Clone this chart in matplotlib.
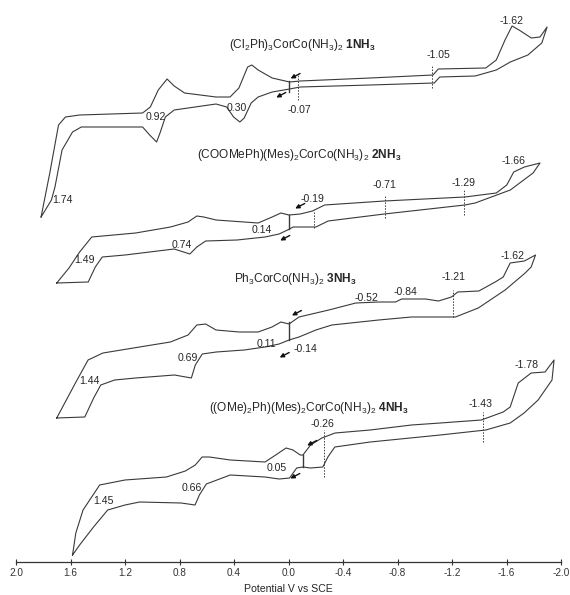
import matplotlib
matplotlib.use("Agg")
import matplotlib.pyplot as plt

plt.rcParams['font.family'] = ['Liberation Sans', 'DejaVu Sans']
plt.rcParams['mathtext.fontset'] = 'custom'
plt.rcParams['mathtext.rm'] = 'Liberation Sans'
plt.rcParams['mathtext.it'] = 'Liberation Sans:italic'
plt.rcParams['mathtext.bf'] = 'Liberation Sans:bold'
plt.rcParams['axes.unicode_minus'] = False

# Cyclic voltammograms, potential in V vs SCE, current in arbitrary (stacked) units.
# Each loop: upper branch left->right, then lower branch right->left.
E1 = [1.816, 1.752, 1.688, 1.637, 1.533, 1.071, 1.014, 0.956, 0.891, 0.839, 0.763, 0.532, 0.429,
      0.364, 0.300, 0.269, 0.223, 0.120, -0.008, -0.086, -0.600, -1.060, -1.100, -1.448, -1.525,
      -1.589, -1.641, -1.692, -1.782, -1.846, -1.898,
      -1.859, -1.757, -1.628, -1.525, -1.370, -1.110, -1.070, -0.600, -0.086, -0.008, 0.120, 0.223,
      0.274, 0.325, 0.357, 0.403, 0.454, 0.532, 0.839, 0.904, 0.943, 0.968, 1.019, 1.071, 1.521,
      1.585, 1.662, 1.714, 1.740]
I1 = [345, 389, 437, 445, 447, 449, 455, 472, 483, 476, 469, 465, 465,
      474, 495, 497, 492, 484, 480, 481, 484, 487, 493, 494, 502,
      522, 536, 532, 524, 525, 535,
      519, 507, 500, 492, 486, 485, 479, 477, 475, 473, 470, 465,
      459, 444, 440, 445, 455, 458, 452, 445, 429, 420, 427, 435, 435,
      430, 412, 375, 362]

E2 = [1.701, 1.611, 1.533, 1.444, 1.122, 0.866, 0.737, 0.673, 0.622, 0.532, 0.223, 0.120, 0.056,
      -0.003, -0.086, -0.176, -0.265, -0.703, -1.294, -1.525, -1.602, -1.653, -1.731, -1.846,
      -1.795, -1.628, -1.370, -1.294, -0.703, -0.291, -0.201, -0.034, -0.008, 0.069, 0.172, 0.377,
      0.608, 0.673, 0.724, 0.839, 1.200, 1.367, 1.418, 1.470]
I2 = [279, 294, 310, 325, 329, 335, 340, 346, 345, 342, 339, 345, 349,
      347, 348, 351, 357, 361, 365, 369, 377, 390, 395, 399,
      389, 372, 359, 357, 348, 341, 335, 335, 333, 328, 325, 322,
      321, 315, 308, 313, 307, 305, 295, 280]

E3 = [1.701, 1.611, 1.560, 1.471, 1.362, 1.093, 0.867, 0.737, 0.673, 0.608, 0.532, 0.362, 0.223,
      0.121, 0.056, -0.004, -0.077, -0.296, -0.494, -0.662, -0.786, -0.830, -1.005, -1.101, -1.196,
      -1.242, -1.397, -1.517, -1.576, -1.627, -1.731, -1.813,
      -1.781, -1.737, -1.590, -1.393, -1.225, -0.903, -0.662, -0.318, -0.201, -0.077, -0.004, 0.069,
      0.172, 0.325, 0.530, 0.633, 0.684, 0.713, 0.837, 1.122, 1.276, 1.378, 1.430, 1.495]
I3 = [144, 167, 180, 202, 209, 215, 220, 227, 237, 238, 232, 230, 230,
      235, 240, 238, 245, 252, 259, 260, 260, 263, 263, 261, 265,
      270, 271, 280, 285, 299, 301, 307,
      295, 289, 272, 254, 245, 245, 242, 237, 232, 225, 222, 218,
      215, 212, 210, 208, 197, 184, 187, 184, 182, 177, 164, 145]

E4 = [1.585, 1.561, 1.508, 1.459, 1.386, 1.200, 0.896, 0.757, 0.684, 0.634, 0.581, 0.428, 0.172,
      0.094, 0.018, -0.033, -0.086, -0.106, -0.162, -0.245, -0.342, -0.600, -0.903, -1.114, -1.415,
      -1.576, -1.627, -1.686, -1.781, -1.883, -1.949,
      -1.934, -1.832, -1.729, -1.627, -1.448, -1.114, -0.600, -0.340, -0.289, -0.252, -0.162, -0.106,
      -0.060, -0.008, 0.069, 0.172, 0.428, 0.603, 0.654, 0.686, 0.788, 1.093, 1.200, 1.327, 1.431,
      1.533]
I4 = [7, 29, 52, 62, 77, 82, 85, 91, 97, 105, 105, 102, 100,
      107, 114, 112, 107, 107, 117, 124, 129, 132, 137, 139, 142,
      150, 155, 179, 189, 190, 202,
      182, 162, 149, 139, 132, 127, 120, 115, 105, 95, 94, 95,
      94, 84, 83, 85, 87, 78, 67, 57, 59, 60, 57, 52, 35,
      17]

# rest potential (start of scan) and the two currents joined there
rest_E = [0.0, 0.0, 0.0, -0.106]
rest_I = [(470, 481), (333, 347), (222, 240), (95, 107)]

titles = [r"(Cl$_2$Ph)$_3$CorCo(NH$_3$)$_2$ $\mathbf{1NH_3}$",
          r"(COOMePh)(Mes)$_2$CorCo(NH$_3$)$_2$ $\mathbf{2NH_3}$",
          r"Ph$_3$CorCo(NH$_3$)$_2$ $\mathbf{3NH_3}$",
          r"((OMe)$_2$Ph)(Mes)$_2$CorCo(NH$_3$)$_2$ $\mathbf{4NH_3}$"]

# peak potentials written on each trace
peaks1 = [1.74, 0.92, 0.30, -0.07, -1.05, -1.62]
peaks2 = [1.49, 0.74, 0.14, -0.19, -0.71, -1.29, -1.66]
peaks3 = [1.44, 0.69, 0.11, -0.14, -0.52, -0.84, -1.21, -1.62]
peaks4 = [1.45, 0.66, 0.05, -0.26, -1.43, -1.78]

# dotted markers: (potential, current span)
dotted = [(-0.07, 462, 487), (-1.05, 474, 497),
          (-0.19, 334, 350), (-0.71, 344, 367), (-1.29, 347, 372),
          (-1.21, 245, 272),
          (-0.26, 85, 132), (-1.43, 120, 150)]

# label placement (E, I) for each peak value above
peak_pos1 = [(1.656, 362), (0.976, 445), (0.377, 454), (-0.077, 452), (-1.101, 507), (-1.634, 541)]
peak_pos2 = [(1.495, 302), (0.786, 317), (0.194, 332), (-0.179, 363), (-0.706, 377),
             (-1.283, 379), (-1.649, 401)]
peak_pos3 = [(1.459, 181), (0.742, 204), (0.165, 218), (-0.128, 213), (-0.574, 264),
             (-0.859, 270), (-1.210, 285), (-1.642, 306)]
peak_pos4 = [(1.356, 61), (0.713, 74), (0.084, 94), (-0.252, 138), (-1.408, 158), (-1.744, 197)]
title_pos = [(-0.099, 517), (-0.077, 407), (-0.048, 283), (-0.150, 154)]
arrow_pos = [((-0.05, 486), (0.055, 467)), ((-0.084, 356), (0.026, 324)),
             ((-0.06, 249), (0.03, 207)), ((-0.172, 119), (-0.048, 86))]

line_col = '#3a3a3a'
text_col = '#262626'

fig = plt.figure(figsize=(5.7, 5.95), dpi=100)
ax = fig.add_axes([16 / 570, 33 / 595, 545 / 570, 562 / 595])

for E, I in [(E1, I1), (E2, I2), (E3, I3), (E4, I4)]:
    ax.plot(E + E[:1], I + I[:1], color=line_col, lw=0.8)

for e, (lo, hi) in zip(rest_E, rest_I):
    ax.plot([e, e], [lo, hi], color=line_col, lw=1.0)

for e, lo, hi in dotted:
    ax.plot([e, e], [lo, hi], color=line_col, lw=0.7, ls=(0, (1.5, 1.5)))

for peaks, pos in [(peaks1, peak_pos1), (peaks2, peak_pos2), (peaks3, peak_pos3), (peaks4, peak_pos4)]:
    for v, (x, y) in zip(peaks, pos):
        ax.text(x, y, f"{v:.2f}", fontsize=7.6, color=text_col, ha='center', va='center')

for t, (x, y) in zip(titles, title_pos):
    ax.text(x, y, t, fontsize=8.6, color=text_col, ha='center', va='center')

# small scan-direction arrows near the rest potential
for pair in arrow_pos:
    for (x, y) in pair:
        ax.annotate('', xy=(x + 0.035, y - 2.5), xytext=(x - 0.035, y + 2.5),
                    arrowprops=dict(arrowstyle='-|>', color='#111111', lw=1.0,
                                    mutation_scale=6, shrinkA=0, shrinkB=0))

ax.set_xlim(2.0, -2.0)
ax.set_ylim(0, 562)
ticks = [2.0, 1.6, 1.2, 0.8, 0.4, 0.0, -0.4, -0.8, -1.2, -1.6, -2.0]
ax.set_xticks(ticks)
ax.set_xticklabels([f"{t:.1f}" for t in ticks])
ax.tick_params(axis='x', direction='inout', length=5, width=0.8, labelsize=7.2,
               pad=2, colors='#333333')
ax.set_yticks([])
for side in ['left', 'right', 'top']:
    ax.spines[side].set_visible(False)
ax.spines['bottom'].set_linewidth(0.9)
ax.spines['bottom'].set_color('#333333')
ax.patch.set_alpha(0)
ax.set_xlabel('Potential V vs SCE', fontsize=7.6, color=text_col, labelpad=4)

fig.savefig('out.png', dpi=100)
